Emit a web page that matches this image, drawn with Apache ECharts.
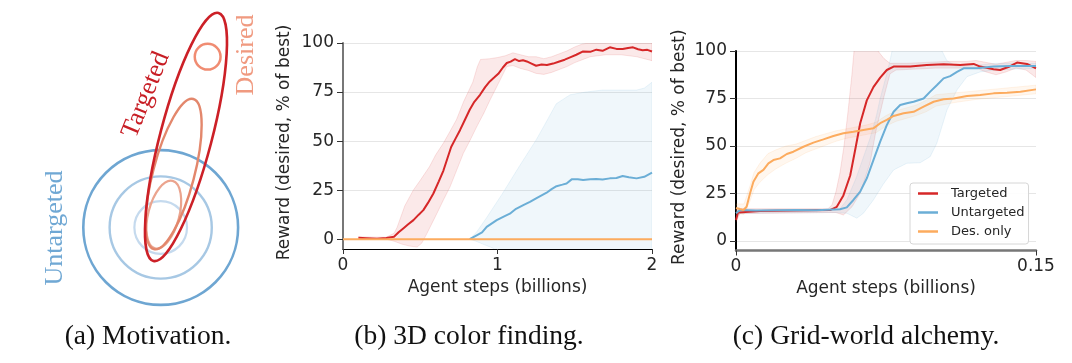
<!DOCTYPE html>
<html><head><meta charset="utf-8">
<script src="https://cdn.jsdelivr.net/npm/echarts@6/dist/echarts.min.js"></script>
<style>html,body{margin:0;padding:0;background:#fff;}#c{width:1072px;height:363px;}</style>
</head><body><div id="c"></div>
<script>
// ---------------- data ----------------
// (a) Motivation diagram, in diagram units (centre of the untargeted rings = origin)
const aRings = [[0, 0, 3.0], [0, 0, 1.98], [0, 0, 1.02]];            // cx, cy, r
const aEllipses = [[0.12, 0.50, 1.35, 0.60], [0.50, 2.07, 3.01, 0.80], [0.98, 3.51, 4.97, 1.0]]; // cx, cy, semi-major, semi-minor
const aTiltDeg = 14.7;
const aDesired = [[1.82, 6.62, 0.50]];
const aLabels = ['Targeted', 'Desired', 'Untargeted'];

// (b) 3D color finding
const bXTicks = [0, 1, 2];
const yTicks = [0, 25, 50, 75, 100];
const bTargeted = [[0.10,0.7],[0.15,0.5],[0.22,0.2],[0.28,0.6],[0.33,1.2],[0.36,3.5],[0.39,5.5],[0.42,7.5],[0.456,9.7],[0.49,12.5],[0.52,14.8],[0.55,18.5],[0.585,23.3],[0.62,29.5],[0.65,35],[0.675,41],[0.70,47],[0.73,51.5],[0.758,55.7],[0.79,61],[0.82,66],[0.85,70],[0.887,73.6],[0.92,77.5],[0.95,80.4],[0.98,82.5],[1.005,84.3],[1.035,87.5],[1.06,89.8],[1.085,90.5],[1.113,91.8],[1.14,90.8],[1.165,91.2],[1.19,90.6],[1.22,89.5],[1.25,88.4],[1.285,89],[1.32,88.8],[1.36,89.5],[1.40,90.6],[1.435,91.5],[1.47,92.7],[1.51,94],[1.554,95.7],[1.6,95.5],[1.64,96.6],[1.68,96],[1.727,97.8],[1.77,97],[1.81,96.9],[1.845,97.5],[1.877,97.8],[1.91,96.8],[1.94,96.3],[1.97,96.5],[2.0,95.7]];
const bTargetedHi = [[0.10,1.2],[0.28,1],[0.33,3],[0.35,6],[0.40,17],[0.455,25],[0.50,30],[0.56,37],[0.60,43],[0.65,49],[0.70,56],[0.735,61],[0.78,70],[0.84,80],[0.87,88],[0.89,91.6],[0.95,92],[1.0,92.6],[1.05,93.5],[1.10,95],[1.15,94],[1.2,93],[1.25,93],[1.3,92],[1.35,93],[1.4,94.5],[1.45,96],[1.5,98],[1.55,99.5],[1.6,100],[1.7,100],[1.8,100.5],[1.9,100],[2.0,100]];
const bTargetedLo = [[0.10,0.2],[0.28,0],[0.33,-1],[0.38,-2.5],[0.43,-3.5],[0.48,-4],[0.51,-2],[0.543,2.9],[0.607,13],[0.65,20],[0.693,26.7],[0.74,36],[0.779,43.8],[0.82,50],[0.866,57.4],[0.91,64],[0.952,71],[1.016,81],[1.06,88],[1.1,88.5],[1.15,87],[1.2,86],[1.25,84.5],[1.3,84],[1.35,85],[1.4,86.5],[1.45,88],[1.5,90],[1.55,91.5],[1.6,93],[1.7,94],[1.8,94],[1.9,93],[1.95,92],[2.0,91]];
const bUntargeted = [[0.82,0],[0.865,2],[0.90,3.5],[0.93,6.3],[0.995,9.7],[1.04,11.5],[1.08,13],[1.12,15.5],[1.167,17.4],[1.21,19],[1.25,20.8],[1.318,23.7],[1.35,25.5],[1.382,27],[1.42,27.8],[1.447,28.4],[1.48,30.5],[1.52,30.6],[1.554,30.2],[1.60,30.5],[1.64,30.7],[1.68,30.4],[1.727,31],[1.77,31.2],[1.81,32.2],[1.85,31.6],[1.9,31],[1.95,31.8],[2.0,33.9]];
const bUntargetedHi = [[0.82,0],[0.865,3.7],[0.93,11],[1.03,23],[1.14,37],[1.25,50.6],[1.31,59],[1.38,69],[1.47,73.6],[1.57,75],[1.68,76],[1.79,76],[1.90,76],[1.95,77],[2.0,80]];
const bUntargetedLo = [[0.82,0],[0.86,-1],[0.92,-3],[0.97,-4.5],[1.0,-7],[2.0,-7]];
const bDesOnly = [[0,0],[2,0]];

// (c) Grid-world alchemy
const cXTicks = [0, 0.15];
const cTargeted = [[0,11],[0.001,15],[0.002,16],[0.012,15.8],[0.0287,16],[0.047,16.3],[0.0504,18],[0.0537,24],[0.0571,34.5],[0.0596,48],[0.0621,62],[0.0654,74],[0.0687,81],[0.0721,86],[0.0754,90],[0.0788,91.8],[0.0871,91.8],[0.0954,92.6],[0.1038,93],[0.1121,92.6],[0.1188,93.2],[0.1221,91.8],[0.1288,90.4],[0.1321,90],[0.1371,92],[0.1405,93.9],[0.1455,93.2],[0.15,90.9]];
const cTargetedHi = [[0,17],[0.046,17],[0.048,19],[0.050,26],[0.052,36],[0.054,50],[0.056,68],[0.058,88],[0.059,100],[0.062,104],[0.068,104],[0.071,100],[0.074,96],[0.077,93.5],[0.085,93.5],[0.095,94],[0.105,94.5],[0.115,94.5],[0.12,95],[0.125,94],[0.13,93],[0.135,94],[0.14,95],[0.145,95],[0.15,94.5]];
const cTargetedLo = [[0,10],[0.002,14.5],[0.046,15],[0.05,15],[0.0537,13.7],[0.058,18],[0.062,25],[0.067,41],[0.070,58],[0.074,76],[0.077,88],[0.08,90],[0.09,90.5],[0.1,91],[0.11,91],[0.12,91],[0.125,89],[0.13,87.5],[0.135,89],[0.14,91],[0.145,90],[0.15,86]];
const cUntargeted = [[0,14.6],[0.002,16.3],[0.01,16],[0.02,16.2],[0.03,16.3],[0.04,16.2],[0.052,16.7],[0.0554,17.7],[0.0587,21.6],[0.0621,26],[0.0654,33],[0.0687,42.6],[0.0721,52.3],[0.0754,61],[0.0788,68],[0.0821,71.6],[0.0854,72.5],[0.0888,73.3],[0.0938,75],[0.0971,78.6],[0.1004,82],[0.1038,85.6],[0.1071,86.8],[0.1105,89],[0.1138,90.9],[0.1205,90.9],[0.1288,91.8],[0.1371,92.1],[0.1455,92.1],[0.15,92.1]];
const cUntargetedHi = [[0,16],[0.05,16.5],[0.052,17],[0.0554,21.6],[0.06,33],[0.062,39],[0.067,54],[0.07,65],[0.0721,75],[0.0754,88],[0.077,95],[0.078,100],[0.079,103],[0.1,103],[0.103,100],[0.1054,95],[0.11,92],[0.12,92.5],[0.13,93.5],[0.14,93.5],[0.15,93.5]];
const cUntargetedLo = [[0,13],[0.002,14.5],[0.05,15],[0.0554,14.6],[0.0604,12],[0.0637,14.6],[0.0687,21.6],[0.0737,30],[0.0788,37.4],[0.0854,40.9],[0.0921,41.2],[0.0971,44.4],[0.1004,51.4],[0.1055,69],[0.1105,79.5],[0.1155,86.5],[0.1221,89],[0.13,90],[0.14,90.5],[0.15,90.8]];
const cDesOnly = [[0,17.4],[0.001,18],[0.002,16.8],[0.0037,16.3],[0.0053,18],[0.007,25],[0.0087,31.2],[0.0112,35.6],[0.0137,37.4],[0.0162,40.9],[0.0187,42.6],[0.022,43.5],[0.0254,45.8],[0.0287,47],[0.0337,49.6],[0.0387,51.8],[0.0437,53.5],[0.0487,55.3],[0.0537,56.7],[0.0587,57.5],[0.0637,58.4],[0.0687,59.3],[0.0721,62],[0.0754,63.7],[0.0788,65.8],[0.0838,67.2],[0.0888,68],[0.0938,70.7],[0.0988,73.3],[0.1038,74.6],[0.1088,75],[0.1155,76.3],[0.1221,76.8],[0.1288,77.7],[0.1355,78],[0.1422,78.6],[0.15,79.8]];
const cDesOnlyHi = [[0,19.5],[0.004,19.5],[0.007,29],[0.009,36],[0.012,41],[0.016,46],[0.02,48],[0.025,50],[0.03,51],[0.035,53],[0.04,55],[0.045,56.5],[0.05,58],[0.055,59],[0.06,60],[0.065,61],[0.07,62.5],[0.075,66],[0.08,68.5],[0.085,70],[0.09,71.5],[0.095,74],[0.1,77],[0.105,77.5],[0.11,78],[0.12,79],[0.13,80],[0.14,81],[0.15,82]];
const cDesOnlyLo = [[0,14.5],[0.004,14],[0.007,21],[0.009,27],[0.012,31],[0.016,35],[0.02,38],[0.025,41],[0.03,43.5],[0.035,46.5],[0.04,48.5],[0.045,50.5],[0.05,52.5],[0.055,54],[0.06,55],[0.065,56],[0.07,57],[0.075,60.5],[0.08,63],[0.085,64.5],[0.09,66],[0.095,68],[0.1,71],[0.105,72],[0.11,73],[0.12,74.5],[0.13,75.5],[0.14,76.5],[0.15,77.5]];

const seriesNames = ['Targeted', 'Untargeted', 'Des. only'];
const captions = ['(a) Motivation.', '(b) 3D color finding.', '(c) Grid-world alchemy.'];

// ---------------- styles ----------------
const RED = '#d62728', BLUE = '#6baed6', ORANGE = '#fcab5e';
const TXT = '#262626';
const SANS = '"DejaVu Sans", sans-serif';
const SERIF = '"Liberation Serif", "Times New Roman", serif';
const FS = 17;
const ringColors = ['#6ea6d2', '#a7c8e4', '#c5daee'];
const ringWidths = [2.6, 2.4, 2.2];
const ellColors = ['#eba48e', '#e3876c', '#cc2027'];
const ellWidths = [2.2, 2.4, 2.6];
const A_ORIGIN = [160.7, 227.5], A_UNIT = 25.8;
const captionX = [148, 469, 866];

function band(upper, lower, rgb, xi, yi) {
  return {
    type: 'custom', xAxisIndex: xi, yAxisIndex: yi, silent: true, clip: true, z: 1,
    data: [[0, 0]],
    renderItem: function (params, api) {
      const pts = upper.map(p => api.coord(p)).concat(lower.slice().reverse().map(p => api.coord(p)));
      return { type: 'polygon', shape: { points: pts },
        style: { fill: 'rgba(' + rgb + ',0.10)', stroke: 'rgba(' + rgb + ',0.16)', lineWidth: 0.8 } };
    }
  };
}
function line(name, data, color, xi, yi) {
  return { type: 'line', name: name, data: data, xAxisIndex: xi, yAxisIndex: yi, showSymbol: false,
    symbol: 'none', lineStyle: { color: color, width: 2 }, itemStyle: { color: color }, z: 3, clip: true };
}
function yAxisCfg(gi, lineColor) {
  return {
    type: 'value', gridIndex: gi, min: -5, max: 100,
    name: 'Reward (desired, % of best)', nameLocation: 'middle', nameGap: gi === 0 ? 50 : 47.5,
    nameTextStyle: { fontSize: FS, fontFamily: SANS, color: TXT, padding: [0, 0, 0, 7] },
    axisLine: { show: true, lineStyle: { color: lineColor, width: 2 } },
    axisTick: { show: true, customValues: yTicks, length: 6, lineStyle: { color: '#333', width: 1 } },
    axisLabel: { customValues: yTicks, fontSize: FS, fontFamily: SANS, color: TXT, margin: 9 },
    splitLine: { show: true, lineStyle: { color: '#e6e6e6', width: 1 } }
  };
}
function xAxisCfg(gi, max, ticks, lineColor, lw) {
  return {
    type: 'value', gridIndex: gi, min: 0, max: max,
    name: 'Agent steps (billions)', nameLocation: 'middle', nameGap: 30,
    nameTextStyle: { fontSize: FS, fontFamily: SANS, color: TXT },
    axisLine: { show: true, onZero: false, lineStyle: { color: lineColor, width: lw } },
    axisTick: { show: true, customValues: ticks, length: 5, lineStyle: { color: '#333', width: 1 } },
    axisLabel: { customValues: ticks, fontSize: FS, fontFamily: SANS, color: TXT, margin: 8,
      formatter: v => String(v) },
    splitLine: { show: false }
  };
}
function textEl(x, y, rot, txt, size, fam, color, sx) {
  return { type: 'text', x: x, y: y, rotation: rot, scaleX: sx || 1,
    style: { text: txt, fontSize: size, fontFamily: fam, fill: color, align: 'center', verticalAlign: 'middle',
      textAlign: 'center', textVerticalAlign: 'middle' } };
}

const chart = echarts.init(document.getElementById('c'), null, { renderer: 'canvas' });
const option = {
  animation: false,
  backgroundColor: '#fff',
  grid: [
    { left: 343, top: 43, width: 309, height: 206 },
    { left: 736, top: 51, width: 300, height: 199.5 },
    { left: 0, top: 0, width: 280, height: 300 }
  ],
  xAxis: [
    xAxisCfg(0, 2, bXTicks, '#000', 1),
    xAxisCfg(1, 0.15, cXTicks, '#777', 2.5),
    { type: 'value', gridIndex: 2, show: false, min: -A_ORIGIN[0] / A_UNIT, max: (280 - A_ORIGIN[0]) / A_UNIT }
  ],
  yAxis: [
    yAxisCfg(0, '#777'),
    yAxisCfg(1, '#000'),
    { type: 'value', gridIndex: 2, show: false, min: -(300 - A_ORIGIN[1]) / A_UNIT, max: A_ORIGIN[1] / A_UNIT }
  ],
  legend: {
    data: seriesNames, orient: 'vertical', left: 910, top: 183,
    icon: 'rect', itemWidth: 20, itemHeight: 2.5, itemGap: 6,
    padding: [4, 4, 6, 8], backgroundColor: 'rgba(255,255,255,0.9)',
    borderColor: '#d6d6d6', borderWidth: 1, borderRadius: 3,
    textStyle: { fontSize: 13, fontFamily: SANS, color: TXT, padding: [0, 0, 0, 8] },
    selectedMode: false
  },
  graphic: [
    textEl(146, 95, 68 * Math.PI / 180, aLabels[0], 26, SERIF, '#c81e25'),
    textEl(246, 55, Math.PI / 2, aLabels[1], 26, SERIF, '#f09a80'),
    textEl(55, 228, Math.PI / 2, aLabels[2], 26, SERIF, '#70a8d4')
  ].concat(captions.map((c, i) => textEl(captionX[i], 337, 0, c, 27, SERIF, '#111', 1.02))),
  series: [
    // panel a
    { type: 'custom', xAxisIndex: 2, yAxisIndex: 2, silent: true, clip: false, data: aRings, z: 2,
      renderItem: function (params, api) {
        const c = api.coord([api.value(0), api.value(1)]);
        const r = api.size([api.value(2), 0])[0];
        const i = params.dataIndex;
        return { type: 'circle', shape: { cx: c[0], cy: c[1], r: r },
          style: { fill: 'none', stroke: ringColors[i], lineWidth: ringWidths[i] } };
      } },
    { type: 'custom', xAxisIndex: 2, yAxisIndex: 2, silent: true, clip: false, data: aEllipses, z: 3,
      renderItem: function (params, api) {
        const c = api.coord([api.value(0), api.value(1)]);
        const ry = api.size([0, api.value(2)])[1];
        const rx = api.size([api.value(3), 0])[0];
        const i = params.dataIndex;
        return { type: 'ellipse', x: c[0], y: c[1], rotation: -aTiltDeg * Math.PI / 180,
          shape: { cx: 0, cy: 0, rx: rx, ry: ry },
          style: { fill: 'none', stroke: ellColors[i], lineWidth: ellWidths[i] } };
      } },
    { type: 'custom', xAxisIndex: 2, yAxisIndex: 2, silent: true, clip: false, data: aDesired, z: 4,
      renderItem: function (params, api) {
        const c = api.coord([api.value(0), api.value(1)]);
        const r = api.size([api.value(2), 0])[0];
        return { type: 'circle', shape: { cx: c[0], cy: c[1], r: r },
          style: { fill: 'none', stroke: '#f08c72', lineWidth: 2.5 } };
      } },
    // panel b
    band(bTargetedHi, bTargetedLo, '214,39,40', 0, 0),
    band(bUntargetedHi, bUntargetedLo, '107,174,214', 0, 0),
    line(seriesNames[0], bTargeted, RED, 0, 0),
    line(seriesNames[1], bUntargeted, BLUE, 0, 0),
    line(seriesNames[2], bDesOnly, ORANGE, 0, 0),
    // panel c
    band(cDesOnlyHi, cDesOnlyLo, '253,174,97', 1, 1),
    band(cTargetedHi, cTargetedLo, '214,39,40', 1, 1),
    band(cUntargetedHi, cUntargetedLo, '107,174,214', 1, 1),
    line(seriesNames[0], cTargeted, RED, 1, 1),
    line(seriesNames[1], cUntargeted, BLUE, 1, 1),
    line(seriesNames[2], cDesOnly, ORANGE, 1, 1)
  ]
};
chart.setOption(option);
</script></body></html>
